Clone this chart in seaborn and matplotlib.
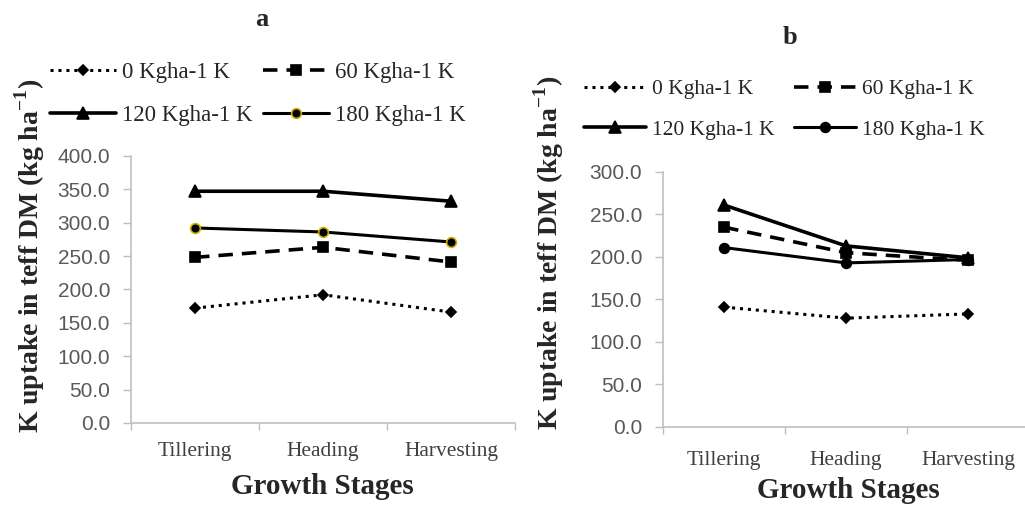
import pandas as pd
import matplotlib
matplotlib.use("Agg")
import matplotlib.pyplot as plt
import seaborn as sns

# data
stages = ["Tillering", "Heading", "Harvesting"]
rates = ["0 Kgha-1 K", "60 Kgha-1 K", "120 Kgha-1 K", "180 Kgha-1 K"]

a_0 = [172, 192, 166]
a_60 = [248, 263, 241]
a_120 = [347, 347, 332]
a_180 = [292, 286, 271]

b_0 = [141, 128, 133]
b_60 = [235, 205, 196]
b_120 = [261, 213, 199]
b_180 = [211, 193, 197]

sns.set_style("white")
plt.rcParams["font.family"] = ["Liberation Serif", "DejaVu Serif"]
plt.rcParams["mathtext.fontset"] = "custom"
plt.rcParams["mathtext.rm"] = "Liberation Serif"
plt.rcParams["mathtext.bf"] = "Liberation Serif:bold"

fig = plt.figure(figsize=(10.25, 5.05), dpi=100)
ax1 = fig.add_axes([0.1278, 0.1624, 0.375, 0.529])
ax2 = fig.add_axes([0.647, 0.1545, 0.357, 0.505])

# line styles per K rate: (linestyle, marker, markersize, linewidth)
styles = {
    "0 Kgha-1 K": ((0, (1, 1.6)), "D", 5, 2.2),
    "60 Kgha-1 K": ((0, (4, 2.5)), "s", 7, 2.6),
    "120 Kgha-1 K": ("-", "^", 8, 2.6),
    "180 Kgha-1 K": ("-", "o", 7, 2.2),
}


def draw(ax, series, ymax, circle_edge, xpad):
    for rate, vals in zip(rates, series):
        ls, mk, ms, lw = styles[rate]
        df = pd.DataFrame({"stage": stages, "uptake": vals})
        edge = circle_edge if rate == "180 Kgha-1 K" else "black"
        sns.lineplot(data=df, x="stage", y="uptake", ax=ax, color="black",
                     linestyle=ls, marker=mk, markersize=ms, linewidth=lw,
                     markeredgecolor=edge, markeredgewidth=1.2, label=rate,
                     legend=False)
    ax.set_xlim(-0.5, 2.5)
    ax.set_ylim(0, ymax)
    ax.set_yticks(range(0, ymax + 1, 50))
    ax.set_yticklabels([f"{v:.1f}" for v in range(0, ymax + 1, 50)],
                       family="Liberation Sans", fontsize=15, color="#595959")
    # category labels sit between the boundary ticks
    ax.set_xticks([-0.5, 0.5, 1.5, 2.5])
    ax.set_xticklabels([])
    ax.set_xticks([0, 1, 2], minor=True)
    ax.set_xticklabels(stages, minor=True, fontsize=15.5, color="#404040")
    ax.tick_params(axis="x", which="minor", length=0, pad=xpad)
    ax.tick_params(axis="x", which="major", length=5, width=1, color="#bfbfbf",
                   direction="out", bottom=True)
    ax.tick_params(axis="y", length=6, width=1, color="#bfbfbf",
                   direction="out", left=True, pad=9)
    ax.set_xlabel("")
    ax.set_ylabel("")
    for s in ["top", "right"]:
        ax.spines[s].set_visible(False)
    for s in ["left", "bottom"]:
        ax.spines[s].set_color("#bfbfbf")
        ax.spines[s].set_linewidth(1.2)


draw(ax1, [a_0, a_60, a_120, a_180], 400, "#c9b000", 14)
draw(ax2, [b_0, b_60, b_120, b_180], 300, "black", 17)


def add_legend(ax, x, y, fs, colsp):
    handles, labels = ax.get_legend_handles_labels()
    order = [0, 2, 1, 3]
    fig.legend([handles[i] for i in order], [labels[i] for i in order],
               ncol=2, loc="upper left", bbox_to_anchor=(x, y),
               frameon=False, prop={"family": "Liberation Serif", "size": fs},
               handlelength=2.9, handletextpad=0.25, columnspacing=colsp,
               labelspacing=0.95, borderpad=0, borderaxespad=0)


add_legend(ax1, 50 / 1025, 1 - 62 / 505, 16.5, 0.45)
add_legend(ax2, 584 / 1025, 1 - 79 / 505, 15.5, 0.9)

ylab = r"K uptake in teff DM (kg ha$^{\mathbf{-1}}$)"
fig.text(30 / 1025, 1 - 256 / 505, ylab, rotation=90, ha="center", va="center",
         fontsize=20, fontweight="bold")
fig.text(549 / 1025, 1 - 253 / 505, ylab, rotation=90, ha="center", va="center",
         fontsize=20, fontweight="bold")

fig.text(322 / 1025, 1 - 486 / 505, "Growth Stages", ha="center", va="center",
         fontsize=21, fontweight="bold")
fig.text(848 / 1025, 1 - 491 / 505, "Growth Stages", ha="center", va="center",
         fontsize=21, fontweight="bold")

fig.text(262 / 1025, 1 - 20 / 505, "a", ha="center", va="center",
         fontsize=19, fontweight="bold")
fig.text(790 / 1025, 1 - 38 / 505, "b", ha="center", va="center",
         fontsize=19, fontweight="bold")

fig.savefig("out.png", dpi=100)
